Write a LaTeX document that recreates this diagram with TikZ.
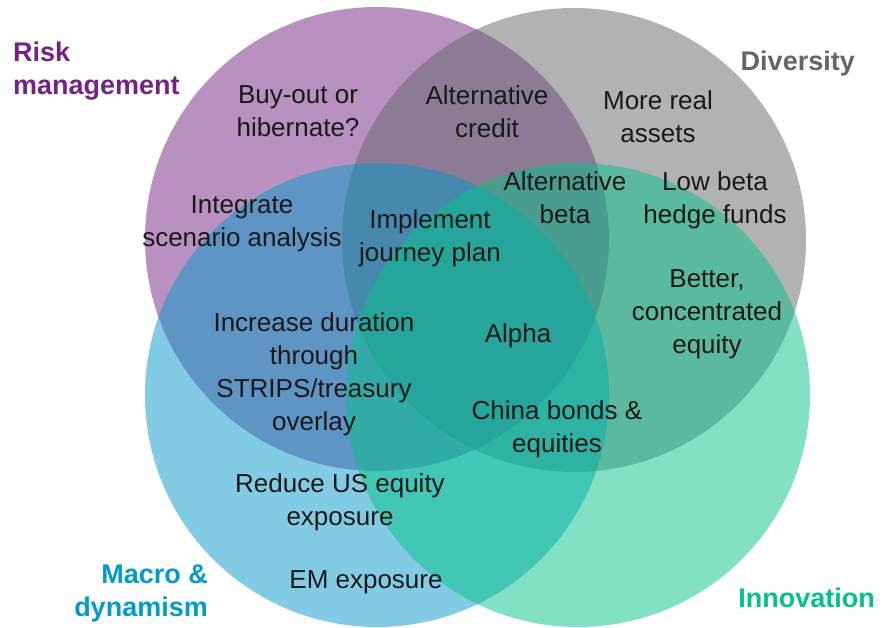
\documentclass[tikz,border=0pt]{standalone}
\usepackage{fontspec}
\setmainfont{Liberation Sans}
\definecolor{cpurple}{RGB}{115,35,130}
\definecolor{cgray}{RGB}{99,101,105}
\definecolor{cblue}{RGB}{4,154,202}
\definecolor{cgreen}{RGB}{5,193,137}
\definecolor{ctext}{RGB}{25,25,25}
\tikzset{
  venn/.style={fill opacity=0.5},
  lbl/.style={inner sep=0pt, anchor=base, align=center, text=ctext,
    font=\fontsize{26}{33}\selectfont},
  title/.style={inner sep=0pt, anchor=base, font=\bfseries\fontsize{27}{33}\selectfont},
}
\begin{document}
\begin{tikzpicture}[x=1pt,y=-1pt]
\useasboundingbox (0,0) rectangle (889,628);
\fill[venn, cpurple] (377,239) circle[radius=232pt];
\fill[venn, cgray] (574,240) circle[radius=232pt];
\fill[venn, cblue] (377,395) circle[radius=232pt];
\fill[venn, cgreen] (578,395) circle[radius=232pt];

\node[title, text=cpurple, align=left, anchor=base west] (risk) at (13,95) {Risk\\management};
\node[title, text=cgray, anchor=base east] (div) at (855,71) {Diversity};
\node[title, text=cblue, align=right, anchor=base east] (macro) at (208,616) {Macro \&\\dynamism};
\node[title, text=cgreen, anchor=base east] (inno) at (875,607) {Innovation};

\node[lbl] (buy) at (298,137) {Buy-out or\\hibernate?};
\node[lbl] (altc) at (487,138) {Alternative\\credit};
\node[lbl] (real) at (658,143) {More real\\assets};
\node[lbl] (integ) at (242,247) {Integrate\\scenario analysis};
\node[lbl] (impl) at (430,262) {Implement\\journey plan};
\node[lbl] (altb) at (565,224) {Alternative\\beta};
\node[lbl] (low) at (715,224) {Low beta\\hedge funds};
\node[lbl] (better) at (707,353) {Better,\\concentrated\\equity};
\node[lbl] (incr) at (314,430) {Increase duration\\through\\STRIPS/treasury\\overlay};
\node[lbl] (alpha) at (518,342) {Alpha};
\node[lbl] (china) at (557,452) {China bonds \&\\equities};
\node[lbl] (reduce) at (340,525) {Reduce US equity\\exposure};
\node[lbl] (em) at (366,588) {EM exposure};
\end{tikzpicture}
\end{document}
